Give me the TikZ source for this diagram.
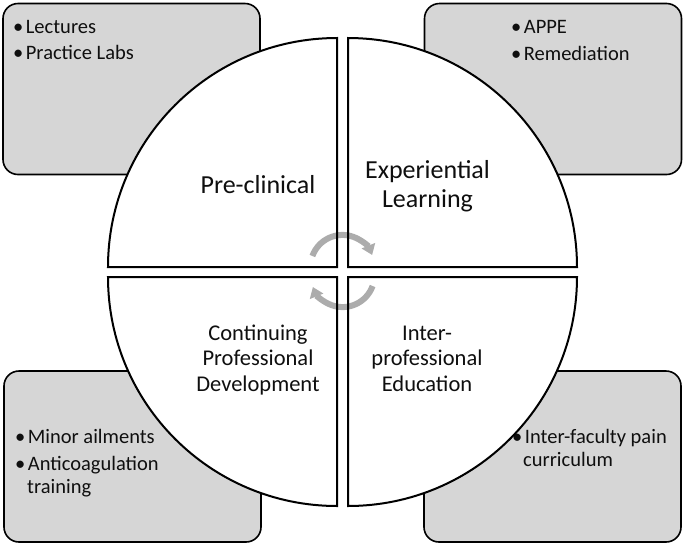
\documentclass[tikz,border=0pt]{standalone}
\usepackage{fontspec}
\setmainfont{Carlito}
\usetikzlibrary{arrows.meta}
\definecolor{boxgray}{RGB}{214,214,214}
\definecolor{arrgray}{RGB}{172,172,172}
\definecolor{txt}{RGB}{15,15,15}
\newcommand{\bul}{•\kern2.5pt}
\begin{document}
\begin{tikzpicture}[x=1pt,y=-1pt,
  cornerbox/.style={draw=black, line width=1.6pt, fill=boxgray, rounded corners=15pt,
    minimum width=257pt, minimum height=171pt, inner sep=0pt},
  quadfill/.style={fill=white},
  quadline/.style={draw=black, line width=2pt, line join=miter},
  cyc/.style={draw=arrgray, line width=6pt, -{Triangle[width=14pt,length=10pt]}},
  btext/.style={font=\fontsize{20.5}{23}\selectfont, text=txt, inner sep=0pt, anchor=base west},
  biglabel/.style={font=\fontsize{26}{29}\selectfont, text=txt, inner sep=0pt, align=center, anchor=base},
  smlabel/.style={font=\fontsize{22.5}{25.5}\selectfont, text=txt, inner sep=0pt, align=center, anchor=base}]
\useasboundingbox (0,0) rectangle (686,547);
% corner boxes
\node[cornerbox] (tlbox) at (131.5,89) {};
\node[cornerbox] (trbox) at (553,89) {};
\node[cornerbox] (blbox) at (132.5,456.5) {};
\node[cornerbox] (brbox) at (552.5,456.5) {};
% box texts
\node[btext] (tl1) at (13,33) {\bul Lectures};
\node[btext] (tl2) at (13,59) {\bul Practice Labs};
\node[btext] (tr1) at (511,33) {\bul APPE};
\node[btext] (tr2) at (511,60) {\bul Remediation};
\node[btext] (bl1) at (15,443) {\bul Minor ailments};
\node[btext] (bl2) at (15,470) {\bul Anticoagulation};
\node[btext] (bl3) at (27,493) {training};
\node[btext] (br1) at (512,443) {\bul Inter-faculty pain};
\node[btext] (br2) at (523,466) {curriculum};
% quadrant fills
\def\R{229}
\fill[quadfill] (337,267) -- (108,267) arc[start angle=180,end angle=270,radius=\R] -- cycle;
\fill[quadfill] (348,267) -- (348,38) arc[start angle=270,end angle=360,radius=\R] -- cycle;
\fill[quadfill] (348,277) -- (577,277) arc[start angle=0,end angle=90,radius=\R] -- cycle;
\fill[quadfill] (337,277) -- (337,506) arc[start angle=90,end angle=180,radius=\R] -- cycle;
% cycle arrows
\draw[cyc] (312.4,256) arc[start angle=200,end angle=338,radius=32];
\draw[cyc] (372.6,286) arc[start angle=20,end angle=158,radius=32];
% quadrant outlines
\draw[quadline] (337,267) -- (108,267) arc[start angle=180,end angle=270,radius=\R] -- cycle;
\draw[quadline] (348,267) -- (348,38) arc[start angle=270,end angle=360,radius=\R] -- cycle;
\draw[quadline] (348,277) -- (577,277) arc[start angle=0,end angle=90,radius=\R] -- cycle;
\draw[quadline] (337,277) -- (337,506) arc[start angle=90,end angle=180,radius=\R] -- cycle;
% labels
\node[biglabel] (pre) at (258,193) {Pre-clinical};
\node[biglabel] (exp) at (427.5,207) {Experiential\\Learning};
\node[smlabel] (cpd) at (258,391) {Continuing\\Professional\\Development};
\node[smlabel] (ipe) at (427,391) {Inter-\\professional\\Education};
\end{tikzpicture}
\end{document}
